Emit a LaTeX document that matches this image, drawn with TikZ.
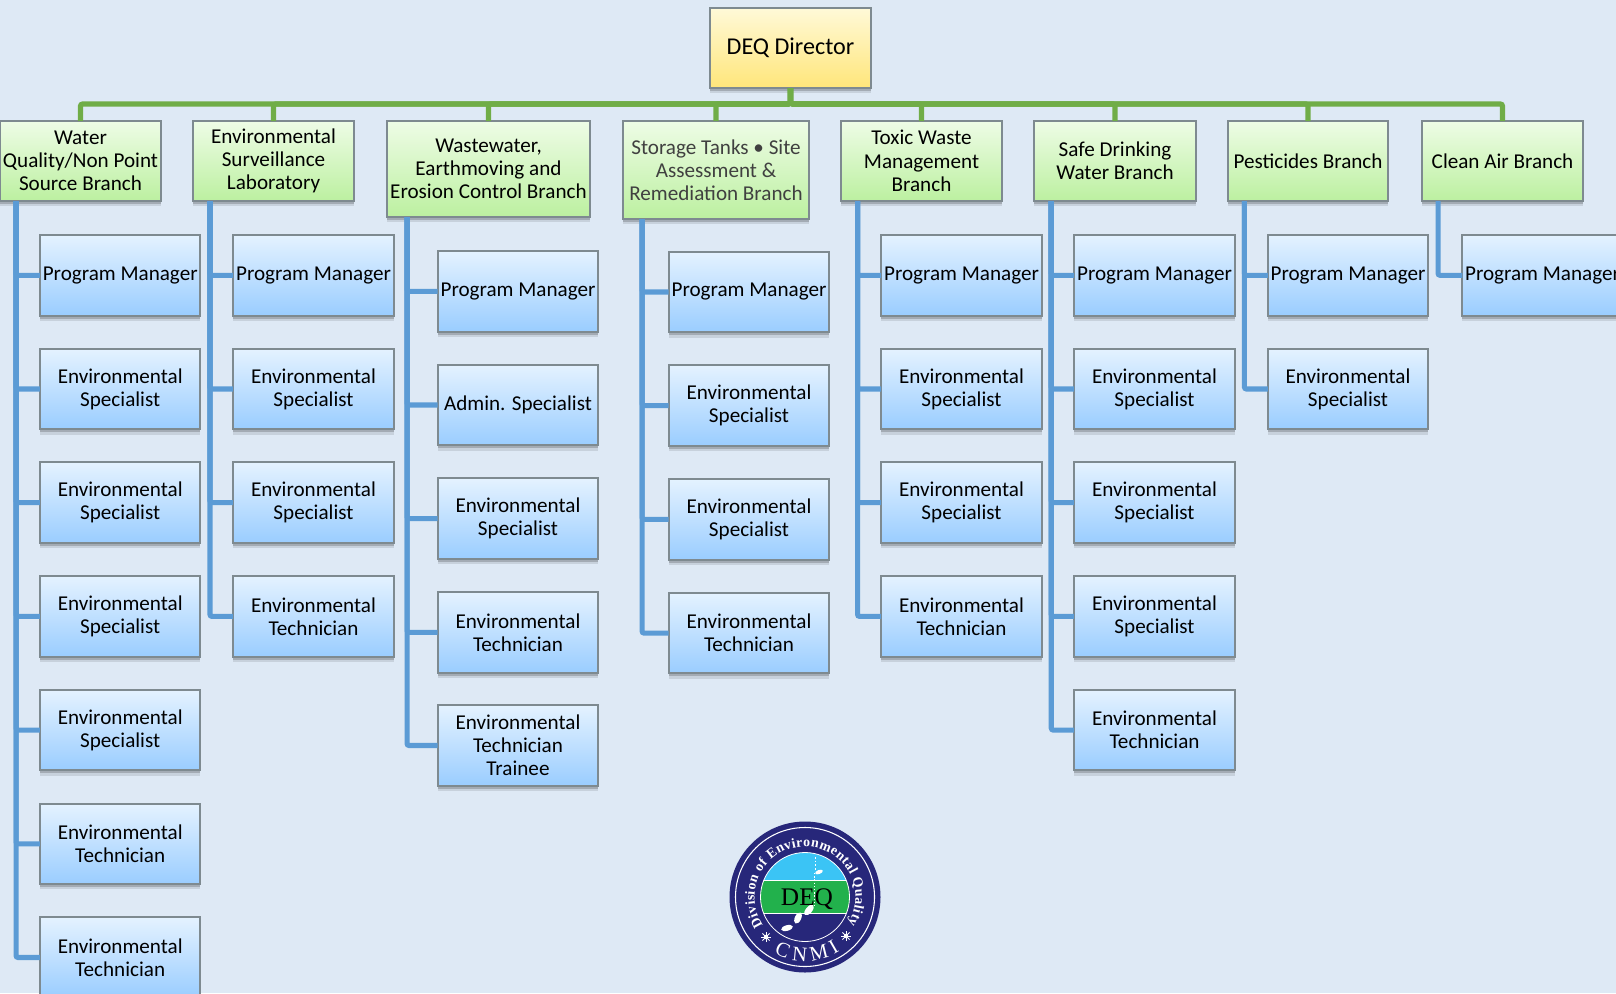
\documentclass[tikz,border=0pt]{standalone}
\usepackage{fontspec}
\setmainfont{Carlito}
\newfontfamily\logoserif{Liberation Serif}
\usetikzlibrary{decorations.text}
\definecolor{pagebg}{HTML}{DEE9F5}
\definecolor{boxedge}{HTML}{7E8A90}
\definecolor{busgreen}{HTML}{70AD47}
\definecolor{stemblue}{HTML}{5B9BD5}
\definecolor{navy}{HTML}{27277A}
\definecolor{seacyan}{HTML}{3BC4F5}
\definecolor{bandgreen}{HTML}{22B14C}
\definecolor{yeltop}{HTML}{FFF9D8}
\definecolor{yelbot}{HTML}{FFE67A}
\definecolor{grntop}{HTML}{EEFCE6}
\definecolor{grnbot}{HTML}{BCF0A0}
\definecolor{blutop}{HTML}{E4F2FF}
\definecolor{blubot}{HTML}{9ACDFF}
\tikzset{
  box/.style={draw=boxedge,line width=1.5pt,inner sep=0pt,outer sep=0pt,align=center,
    font=\fontsize{15.85pt}{17.4pt}\selectfont,
    preaction={fill=black,opacity=.10,transform canvas={yshift=-4pt}},
    preaction={fill=black,opacity=.18,transform canvas={yshift=-2.2pt}}},
  director/.style={box,minimum width=120.6pt,minimum height=60pt,top color=yeltop,bottom color=yelbot,font=\fontsize{18.1pt}{20pt}\selectfont},
  branch/.style={box,minimum height=60pt,top color=grntop,bottom color=grnbot},
  job/.style={box,minimum width=120.4pt,minimum height=60.4pt,top color=blutop,bottom color=blubot},
  buslink/.style={draw=busgreen,line width=3.8pt,rounded corners=1.5pt},
  stemlink/.style={draw=stemblue,line width=3.8pt,rounded corners=1.5pt},
}
\begin{document}
\begin{tikzpicture}[x=.75pt,y=-.75pt]
\useasboundingbox (0,0) rectangle (1616,993);
\clip (0,0) rectangle (1616,993);
\fill[pagebg] (0,0) rectangle (1616,993);
% top level
\node[director] (dir) at (790.5,48) {DEQ Director};
\node[branch,minimum width=120.7pt] (b1) at (80.5,161) {Water\\Quality/Non Point\\Source Branch};
\node[branch,minimum width=120.7pt] (b2) at (273.5,161) {Environmental\\Surveillance\\Laboratory};
\node[branch,minimum width=152pt,minimum height=72pt] (b3) at (488.5,169) {Wastewater,\\Earthmoving and\\Erosion Control Branch};
\node[branch,minimum width=139.5pt,minimum height=73.5pt,text=black!75] (b4) at (716,170) {Storage Tanks • Site\\Assessment \&\\Remediation Branch};
\node[branch,minimum width=120.7pt] (b5) at (921.5,161) {Toxic Waste\\Management\\Branch};
\node[branch,minimum width=121pt] (b6) at (1115,161) {Safe Drinking\\Water Branch};
\node[branch,minimum width=120pt] (b7) at (1308,161) {Pesticides Branch};
\node[branch,minimum width=120.7pt] (b8) at (1502.5,161) {Clean Air Branch};
% column 1
\node[job] (a1) at (120.2,275.3) {Program Manager};
\node[job] (a2) at (120.2,389) {Environmental\\Specialist};
\node[job] (a3) at (120.2,502.7) {Environmental\\Specialist};
\node[job] (a4) at (120.2,616.4) {Environmental\\Specialist};
\node[job] (a5) at (120.2,730.1) {Environmental\\Specialist};
\node[job] (a6) at (120.2,843.8) {Environmental\\Technician};
\node[job] (a7) at (120.2,957.5) {Environmental\\Technician};
% column 2
\node[job] (c1) at (313.5,275.3) {Program Manager};
\node[job] (c2) at (313.5,389) {Environmental\\Specialist};
\node[job] (c3) at (313.5,502.7) {Environmental\\Specialist};
\node[job] (c4) at (313.5,616.4) {Environmental\\Technician};
% column 3
\node[job] (d1) at (518,291.3) {Program Manager};
\node[job] (d2) at (518,405) {Admin. Specialist};
\node[job] (d3) at (518,518.7) {Environmental\\Specialist};
\node[job] (d4) at (518,632.4) {Environmental\\Technician};
\node[job] (d5) at (518,745.5) {Environmental\\Technician\\Trainee};
% column 4
\node[job] (e1) at (749,292) {Program Manager};
\node[job] (e2) at (749,405.7) {Environmental\\Specialist};
\node[job] (e3) at (749,519.4) {Environmental\\Specialist};
\node[job] (e4) at (749,633.1) {Environmental\\Technician};
% column 5
\node[job] (f1) at (961.5,275.3) {Program Manager};
\node[job] (f2) at (961.5,389) {Environmental\\Specialist};
\node[job] (f3) at (961.5,502.7) {Environmental\\Specialist};
\node[job] (f4) at (961.5,616.4) {Environmental\\Technician};
% column 6
\node[job] (g1) at (1154.5,275.3) {Program Manager};
\node[job] (g2) at (1154.5,389) {Environmental\\Specialist};
\node[job] (g3) at (1154.5,502.7) {Environmental\\Specialist};
\node[job] (g4) at (1154.5,616.4) {Environmental\\Specialist};
\node[job] (g5) at (1154.5,730.1) {Environmental\\Technician};
% column 7
\node[job] (h1) at (1348,275.3) {Program Manager};
\node[job] (h2) at (1348,389) {Environmental\\Specialist};
% column 8
\node[job] (i1) at (1542.5,275.3) {Program Manager};
% green bus
\coordinate (bus) at (790.5,104);
\foreach \b in {b1,b2,b3,b4,b5,b6,b7,b8}
  \draw[buslink] (dir.south) -- (bus) -| (\b.north);
% blue stems
\foreach \c in {a1,a2,a3,a4,a5,a6,a7} \draw[stemlink] ([xshift=12pt]b1.south west) |- (\c.west);
\foreach \c in {c1,c2,c3,c4} \draw[stemlink] ([xshift=12.7pt]b2.south west) |- (\c.west);
\foreach \c in {d1,d2,d3,d4,d5} \draw[stemlink] ([xshift=14.9pt]b3.south west) |- (\c.west);
\foreach \c in {e1,e2,e3,e4} \draw[stemlink] ([xshift=14.3pt]b4.south west) |- (\c.west);
\foreach \c in {f1,f2,f3,f4} \draw[stemlink] ([xshift=12.4pt]b5.south west) |- (\c.west);
\foreach \c in {g1,g2,g3,g4,g5} \draw[stemlink] ([xshift=12.7pt]b6.south west) |- (\c.west);
\foreach \c in {h1,h2} \draw[stemlink] ([xshift=12.3pt]b7.south west) |- (\c.west);
\foreach \c in {i1} \draw[stemlink] ([xshift=12pt]b8.south west) |- (\c.west);
% logo
\begin{scope}[shift={(805,897)},x=.75pt,y=.75pt]
  \fill[navy] (0,0) circle[radius=75.5];
  \draw[white,line width=.8pt] (0,0) circle[radius=69.5];
  \begin{scope}
    \clip (0,0) circle[radius=44.5];
    \fill[seacyan] (-50,16.5) rectangle (50,50);
    \fill[bandgreen] (-50,-16.5) rectangle (50,16.5);
    \fill[navy] (-50,-50) rectangle (50,-16.5);
    \draw[white,line width=.5pt] (-50,16.5) -- (50,16.5) (-50,-16.5) -- (50,-16.5);
    \draw[white,line width=1pt,dash pattern=on 1.2pt off 1.6pt] (10.5,40) -- (10.5,27);
    \draw[white,line width=.6pt,dash pattern=on 1pt off 1.4pt] (9,24) -- (9,-10);
    \fill[white,rotate around={20:(14,25)}] (14,25) ellipse[x radius=4,y radius=2];
    \fill[white,rotate around={50:(4,-13)}] (4,-13) ellipse[x radius=6.5,y radius=3.2];
    \fill[white,rotate around={65:(-7,-21)}] (-7,-21) ellipse[x radius=6,y radius=3.2];
    \fill[white,rotate around={15:(-18,-31)}] (-18,-31) ellipse[x radius=6,y radius=2.8];
  \end{scope}
  \draw[white,line width=.6pt] (0,0) circle[radius=44.5];
  \node[font=\logoserif\fontsize{19pt}{20pt}\selectfont,text=black,inner sep=0pt] (deq) at (2,-2) {DEQ};
  \path[decorate,decoration={text along path,text align={fit to path},
    text={|\logoserif\bfseries\fontsize{10.4pt}{11pt}\selectfont\color{white}|Division of Environmental Quality}}]
    (214:50.5) arc[start angle=214,end angle=-32,radius=50.5];
  \path[decorate,decoration={text along path,text align={fit to path},
    text={|\logoserif\fontsize{15.5pt}{16pt}\selectfont\color{white}|CNMI}}]
    (241:64) arc[start angle=241,end angle=303,radius=64];
  \foreach \sx/\sy in {-39/-40,41/-39}{
    \foreach \a in {0,45,90,135}
      \draw[white,line width=.7pt,rotate around={\a:(\sx,\sy)}] (\sx-5,\sy) -- (\sx+5,\sy);
    \fill[white] (\sx,\sy) circle[radius=2.2];
  }
\end{scope}
\end{tikzpicture}
\end{document}
